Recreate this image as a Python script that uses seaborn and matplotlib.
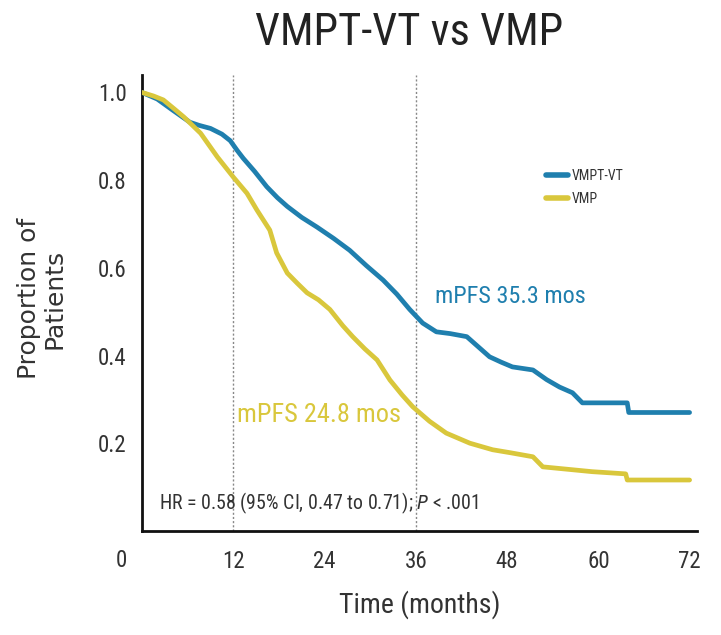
import matplotlib
matplotlib.use("Agg")
import matplotlib.pyplot as plt
from matplotlib import font_manager
import seaborn as sns
import pandas as pd

# ---- data ----
vmpt_months = [0, 2, 4, 6.3, 7.5, 9, 10.5, 11.6, 12.5, 13.3, 14.8, 16.4, 17.8, 19.1, 21,
               23, 25.2, 27.3, 29.5, 31.7, 33.5, 35.2, 36.9, 38.7, 40.5, 42.7, 44.2,
               45.7, 47.2, 48.7, 51.4, 53.2, 54.9, 56.6, 57.9, 63.8, 64.0, 72]
vmpt_surv = [1.0, 0.985, 0.96, 0.932, 0.925, 0.918, 0.905, 0.89, 0.868, 0.85, 0.82,
             0.785, 0.76, 0.74, 0.715, 0.693, 0.667, 0.64, 0.605, 0.572, 0.54, 0.505,
             0.474, 0.454, 0.45, 0.443, 0.42, 0.397, 0.385, 0.374, 0.367, 0.345, 0.328,
             0.315, 0.292, 0.292, 0.27, 0.27]

vmp_months = [0, 1.5, 2.8, 4.2, 5.5, 7.7, 9.9, 12, 13.8, 15.1, 16.8, 17.7, 19.1, 20.4,
              21.7, 23.2, 24.7, 26.4, 27.7, 29.3, 30.9, 32.6, 34.2, 35.6, 37.8,
              40, 43.1, 46.1, 48.5, 51.4, 52.7, 59.2, 63.6, 63.8, 72]
vmp_surv = [1.0, 0.992, 0.983, 0.963, 0.944, 0.907, 0.853, 0.807, 0.77, 0.732, 0.686,
            0.634, 0.588, 0.565, 0.543, 0.527, 0.505, 0.468, 0.443, 0.415, 0.39,
            0.344, 0.31, 0.283, 0.25, 0.223, 0.2, 0.185, 0.178, 0.169, 0.146, 0.135,
            0.13, 0.116, 0.116]

arm_names = ["VMPT-VT", "VMP"]
arm_colors = ["#1f7fae", "#d9c73c"]
x_ticks = [12, 24, 36, 48, 60, 72]
y_ticks = [0.2, 0.4, 0.6, 0.8, 1.0]
ref_lines = [12, 36]

df = pd.concat([
    pd.DataFrame({"month": vmpt_months, "surv": vmpt_surv, "arm": arm_names[0]}),
    pd.DataFrame({"month": vmp_months, "surv": vmp_surv, "arm": arm_names[1]}),
], ignore_index=True)

sns.set_theme(style="white")
names = {f.name for f in font_manager.fontManager.ttflist}
cands = ["Roboto Condensed", "Open Sans Condensed", "Liberation Sans Narrow",
         "Noto Sans Condensed", "DejaVu Sans"]
narrow = next(c for c in cands if c in names or c == "DejaVu Sans")
plt.rcParams["font.family"] = [narrow, "DejaVu Sans"]
plt.rcParams["font.stretch"] = "condensed"
txt = "#333333"

fig = plt.figure(figsize=(7.21, 6.35), dpi=100)
ax = fig.add_axes([0.197, 0.164, 0.770, 0.718])

for xv in ref_lines:
    ax.axvline(xv, color="#888888", lw=1, ls=(0, (1.5, 1.5)), zorder=1)

sns.lineplot(data=df, x="month", y="surv", hue="arm", hue_order=arm_names,
             palette=arm_colors, estimator=None, sort=False,
             linewidth=3.4, ax=ax, legend=True, zorder=3)

ax.set_xlim(0, 73)
ax.set_ylim(0, 1.04)
ax.set_xticks(x_ticks)
ax.set_yticks(y_ticks)
ax.set_xticklabels([str(t) for t in x_ticks])
ax.set_yticklabels([f"{t:.1f}" for t in y_ticks])
ax.tick_params(axis="both", direction="out", length=6, width=1.2, colors="#222222",
               labelsize=16.5, labelcolor=txt, pad=5)
ax.tick_params(axis="x", pad=8)
for s in ["top", "right"]:
    ax.spines[s].set_visible(False)
for s in ["left", "bottom"]:
    ax.spines[s].set_color("#111111")
    ax.spines[s].set_linewidth(2)

ax.text(-2.0, -0.068, "0", ha="right", va="center", fontsize=16.5, color=txt,
        transform=ax.transData, clip_on=False)

ax.set_xlabel("Time (months)", fontsize=20, color=txt)
ax.xaxis.label.set_va("center")
ax.xaxis.set_label_coords(0.5, -0.162)
ax.set_ylabel("")
fig.text(0.058, 0.53, "Proportion of\nPatients", rotation=90, ha="center", va="center",
         fontsize=18, color=txt, family="DejaVu Sans", fontstretch="normal",
         multialignment="center", linespacing=1.05)
fig.text(0.567, 0.948, "VMPT-VT vs VMP", ha="center", va="center", fontsize=32,
         color="#222222")

ax.text(38.5, 0.534, "mPFS 35.3 mos", color=arm_colors[0], fontsize=17.5, ha="left", va="center")
ax.text(12.5, 0.265, "mPFS 24.8 mos", color=arm_colors[1], fontsize=19, ha="left", va="center")
ax.text(2.2, 0.062, "HR = 0.58 (95% CI, 0.47 to 0.71); $\\it{P}$ < .001", color=txt,
        fontsize=14.3, ha="left", va="center")

leg = ax.legend(loc="upper left", bbox_to_anchor=(0.705, 0.822), frameon=False,
                fontsize=10, handlelength=1.6, handletextpad=0.25, labelspacing=0.65)
for t in leg.get_texts():
    t.set_color(txt)
for h in leg.get_lines():
    h.set_linewidth(4)

fig.savefig("out.png", dpi=100, facecolor="white")
